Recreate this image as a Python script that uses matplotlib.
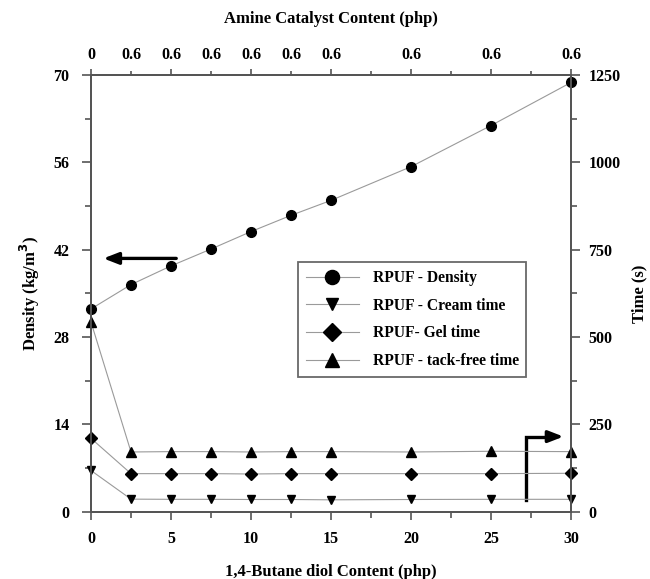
import matplotlib
matplotlib.use("Agg")
import matplotlib.pyplot as plt

plt.rcParams['font.family'] = ['Liberation Serif', 'DejaVu Serif']
plt.rcParams['font.weight'] = 'bold'

# Data
bdo = [0, 2.5, 5, 7.5, 10, 12.5, 15, 20, 25, 30]
density = [32.5, 36.4, 39.4, 42.1, 44.9, 47.5, 49.9, 55.3, 61.9, 68.8]
cream_time = [118, 36, 35.5, 35.5, 35, 35, 34, 35, 35.5, 35.5]
gel_time = [210, 109, 109, 109, 108, 109, 109, 109, 109, 110]
tackfree_time = [543, 171, 172, 172, 171, 172, 172, 171, 173, 172]
amine_labels = ['0', '0.6', '0.6', '0.6', '0.6', '0.6', '0.6', '0.6', '0.6', '0.6']

fig = plt.figure(figsize=(6.5, 5.79), dpi=100)
ax = fig.add_axes([0.14, 0.1162, 0.7385, 0.7543])
ax2 = ax.twinx()
ax3 = ax.twiny()

lc = '#9a9a9a'
lw = 0.8
kw = dict(color=lc, lw=lw, mfc='black', mec='black', clip_on=False, zorder=5)
l1, = ax.plot(bdo, density, marker='o', ms=7, label='RPUF - Density', **kw)
l2, = ax2.plot(bdo, cream_time, marker='v', ms=6, label='RPUF - Cream time', **kw)
l3, = ax2.plot(bdo, gel_time, marker='D', ms=6, label='RPUF- Gel time', **kw)
l4, = ax2.plot(bdo, tackfree_time, marker='^', ms=6.5, label='RPUF - tack-free time', **kw)

ax.set_xlim(0, 30)
ax.set_ylim(0, 70)
ax2.set_ylim(0, 1250)
ax3.set_xlim(0, 30)

spc = '#555555'
for a in (ax, ax2, ax3):
    for s in a.spines.values():
        s.set_color(spc)
        s.set_linewidth(1.3)

ax.set_xticks([0, 5, 10, 15, 20, 25, 30])
ax.set_xticks([2.5, 7.5, 12.5, 17.5, 22.5, 27.5], minor=True)
ax.set_yticks([0, 14, 28, 42, 56, 70])
ax.set_yticks([7, 21, 35, 49, 63], minor=True)
ax2.set_yticks([0, 250, 500, 750, 1000, 1250])
ax2.set_yticks([125, 375, 625, 875, 1125], minor=True)

major_pos = [0, 5, 10, 15, 20, 25, 30]
minor_pos = [2.5, 7.5, 12.5, 17.5, 22.5, 27.5]
lab = dict(zip(bdo, amine_labels))
ax3.set_xticks(major_pos)
ax3.set_xticklabels([lab.get(p, '') for p in major_pos])
ax3.set_xticks(minor_pos, minor=True)
ax3.set_xticklabels([lab.get(p, '') for p in minor_pos], minor=True)

for a in (ax, ax2):
    a.tick_params(which='major', direction='out', length=6.5, width=1.2, color=spc, labelsize=11.5, pad=6)
    a.tick_params(which='minor', direction='out', length=4.5, width=1.2, color=spc, labelsize=11.5, pad=8)
ax.tick_params(axis='y', which='major', pad=9)
ax.tick_params(axis='x', which='major', length=6, pad=8)
ax.tick_params(axis='x', which='minor', length=4.5, pad=9.5)
ax3.tick_params(which='major', direction='out', length=4.5, width=1.2, color=spc, labelsize=11.5, pad=4.3)
ax3.tick_params(which='minor', direction='out', length=3, width=1.2, color=spc, labelsize=11.5, pad=5.8)
for a in (ax, ax2, ax3):
    for t in a.get_xticklabels(which='both') + a.get_yticklabels(which='both'):
        t.set_fontweight('bold')

ax.set_xlabel('1,4-Butane diol Content (php)', fontsize=12, fontweight='bold', labelpad=12)
ax.set_ylabel('Density (kg/m$^\\mathbf{3}$)', fontsize=12, fontweight='bold', labelpad=8)
ax2.set_ylabel('Time (s)', fontsize=12, fontweight='bold', labelpad=8)
ax3.set_xlabel('Amine Catalyst Content (php)', fontsize=12, fontweight='bold', labelpad=17)

# arrows
ax.annotate('', xy=(0.6, 40.6), xytext=(5.5, 40.6),
            arrowprops=dict(arrowstyle='-|>,head_length=0.9,head_width=0.35', color='black', lw=2.4))
ax2.plot([27.2, 27.2, 28.6], [34, 215, 215], color='black', lw=2.4, solid_joinstyle='miter')
ax2.annotate('', xy=(29.7, 215), xytext=(28.4, 215),
             arrowprops=dict(arrowstyle='-|>,head_length=0.9,head_width=0.35', color='black', lw=2.4))

leg = ax2.legend(handles=[l1, l2, l3, l4], loc='upper left', bbox_to_anchor=(0.431, 0.571),
                 frameon=True, fancybox=False, edgecolor='#444444', markerscale=1.45,
                 prop={'weight': 'bold', 'size': 11.2}, handlelength=3.4, borderpad=0.5,
                 labelspacing=0.75, handletextpad=0.9, borderaxespad=0)
leg.get_frame().set_linewidth(1.3)

fig.savefig('out.png', dpi=100)
